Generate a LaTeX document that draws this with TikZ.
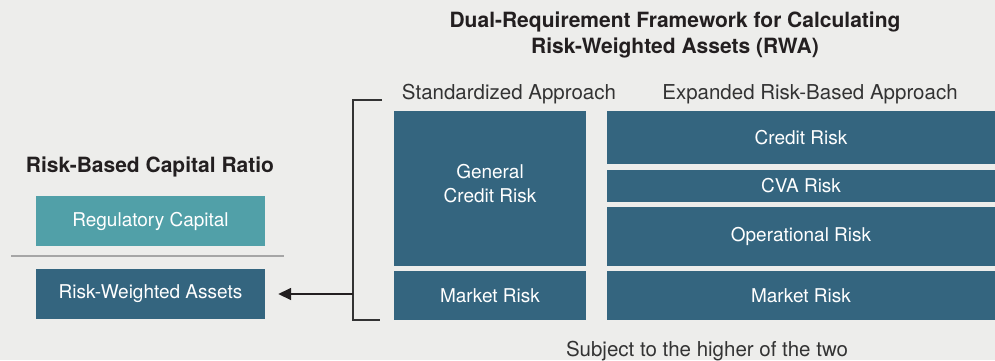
\documentclass[tikz,border=0pt]{standalone}
\usepackage{fontspec}
\setmainfont{TeX Gyre Heros}
\usepackage{tikz}
\usetikzlibrary{arrows.meta}

\definecolor{bgray}{HTML}{EDEDEB}
\definecolor{rwablue}{HTML}{34657F}
\definecolor{capteal}{HTML}{51A0A8}
\definecolor{headtxt}{HTML}{333333}
\definecolor{titletxt}{HTML}{231F20}

\begin{document}
\begin{tikzpicture}[x=1pt, y=-1pt,
    box/.style={fill=rwablue, text=white, inner sep=0pt, font=\fontsize{19}{24}\selectfont, align=center},
    head/.style={text=headtxt, inner sep=0pt, font=\fontsize{20.5}{24}\selectfont},
    ttl/.style={text=titletxt, inner sep=0pt, font=\bfseries\fontsize{21}{26}\selectfont, align=center}]
  \fill[bgray] (0,0) rectangle (995,360);
  \useasboundingbox (0,0) rectangle (995,360);

  % framework title
  \node[ttl] (title) at (675,35) {Dual-Requirement Framework for Calculating\\Risk-Weighted Assets (RWA)};
  \node[head] (stdhead) at (509,94) {Standardized Approach};
  \node[head] (exphead) at (810,94) {Expanded Risk-Based Approach};

  % standardized approach
  \node[box, minimum width=192, minimum height=155] (stdcredit) at (490,188.5) {General\\Credit Risk\\[-14pt]};
  \node[box, minimum width=192, minimum height=49] (stdmarket) at (490,295.5) {Market Risk};

  % expanded risk-based approach
  \node[box, minimum width=388, minimum height=53] (expcredit) at (801,137.5) {Credit Risk};
  \node[box, minimum width=388, minimum height=32] (expcva) at (801,186) {CVA Risk};
  \node[box, minimum width=388, minimum height=59] (expop) at (801,236.5) {Operational Risk};
  \node[box, minimum width=388, minimum height=49] (expmarket) at (801,295.5) {Market Risk};

  % capital ratio
  \node[ttl] (ratio) at (150,167) {Risk-Based Capital Ratio};
  \node[box, fill=capteal, minimum width=229, minimum height=50] (regcap) at (150.5,221) {Regulatory Capital};
  \node[box, minimum width=229, minimum height=50] (rwa) at (150.5,294) {Risk-Weighted Assets};
  \coordinate (divl) at (11,256);
  \coordinate (divr) at (284,256);
  \draw[gray!70, line width=2pt] (divl) -- (divr);

  % bracket and arrow
  \coordinate (brtop) at (382,100);
  \coordinate (brbot) at (380,320);
  \coordinate (brtick) at (340,294);
  \draw[headtxt, line width=1.6pt] (brtop) -- (353,100) -- (353,320) -- (brbot);
  \draw[titletxt, line width=1.6pt, -{Triangle[length=13pt,width=12pt]}, shorten >=13pt] (353,294) -- (brtick) -- (rwa.east);

  \node[head] (note) at (707,351) {Subject to the higher of the two};
\end{tikzpicture}
\end{document}
